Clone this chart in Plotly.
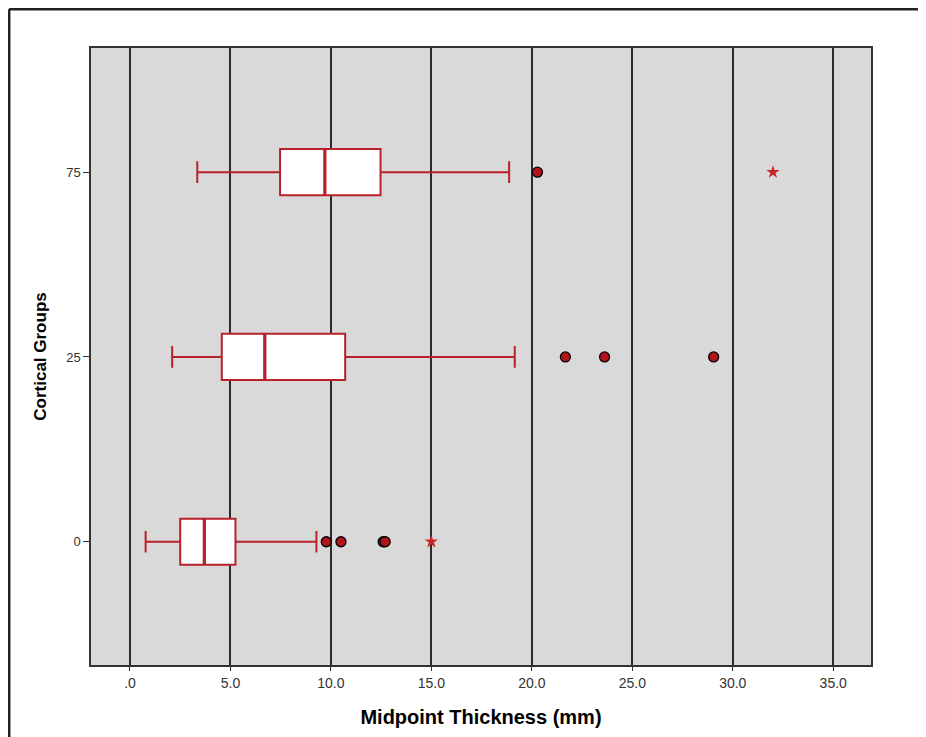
import plotly.graph_objects as go

# ---- data ----
groups = ["0", "25", "75"]
lower_whisker = [0.78, 2.1, 3.35]
q1 = [2.5, 4.57, 7.47]
median = [3.7, 6.71, 9.7]
q3 = [5.25, 10.71, 12.47]
upper_whisker = [9.28, 19.15, 18.87]

# mild outliers (circles) and extreme outliers (stars)
circle_group = ["0", "0", "0", "0", "25", "25", "25", "75"]
circle_value = [9.77, 10.5, 12.6, 12.7, 21.67, 23.62, 29.05, 20.28]
star_group = ["0", "75"]
star_value = [15.0, 32.0]

x_tick_vals = [0, 5, 10, 15, 20, 25, 30, 35]
x_tick_text = [".0", "5.0", "10.0", "15.0", "20.0", "25.0", "30.0", "35.0"]

# ---- styling ----
RED = "#b8202a"
BOX_W = 0.25
pos = {g: i for i, g in enumerate(groups)}

fig = go.Figure()

fig.add_trace(go.Box(
    y=[pos[g] for g in groups],
    q1=q1, median=median, q3=q3,
    lowerfence=lower_whisker, upperfence=upper_whisker,
    orientation="h",
    width=BOX_W,
    whiskerwidth=0.47,
    fillcolor="white",
    line=dict(color=RED, width=2),
    boxpoints=False,
    hoverinfo="skip",
    showlegend=False,
))

# thicker median lines
mx, my = [], []
for g, m in zip(groups, median):
    mx += [m, m, None]
    my += [pos[g] - BOX_W / 2, pos[g] + BOX_W / 2, None]
fig.add_trace(go.Scatter(
    x=mx, y=my, mode="lines",
    line=dict(color=RED, width=3.2),
    showlegend=False, hoverinfo="skip",
))

fig.add_trace(go.Scatter(
    x=circle_value, y=[pos[g] for g in circle_group],
    mode="markers",
    marker=dict(symbol="circle", size=10, color="#b3141b",
                line=dict(color="black", width=1.3)),
    showlegend=False,
))
fig.add_trace(go.Scatter(
    x=star_value, y=[pos[g] for g in star_group],
    mode="markers",
    marker=dict(symbol="star", size=10, color="#c8262c",
                line=dict(width=0)),
    showlegend=False,
))

# page body has an 8px margin, so the figure is placed at (8, 8)
W, H = 918, 729
L, R, T, B = 83, 55, 40, 70
pw, ph = W - L - R, H - T - B

def px2x(px):
    return (px - L) / pw

def py2y(py):
    return (H - B - py) / ph

# outer frame (top and left lines)
fig.add_shape(type="line", xref="paper", yref="paper",
              x0=px2x(1), x1=px2x(W + 5), y0=py2y(1.2), y1=py2y(1.2),
              line=dict(color="#222222", width=2.5))
fig.add_shape(type="line", xref="paper", yref="paper",
              x0=px2x(1.2), x1=px2x(1.2), y0=py2y(1), y1=py2y(H + 5),
              line=dict(color="#222222", width=2.5))

fig.update_layout(
    width=W, height=H,
    margin=dict(l=L, r=R, t=T, b=B),
    paper_bgcolor="white",
    plot_bgcolor="#d9d9d9",
    font=dict(family="Liberation Sans, Arial, sans-serif", color="#333333"),
    xaxis=dict(
        range=[-1.94, 36.88],
        tickvals=x_tick_vals, ticktext=x_tick_text,
        tickfont=dict(family="Liberation Sans Narrow, Liberation Sans, Arial", size=14, color="#333333"),
        showgrid=True, gridcolor="#2b2b2b", gridwidth=1.5,
        zeroline=False,
        showline=True, linecolor="#333333", linewidth=1.5, mirror=True,
        ticks="outside", ticklen=4, tickcolor="#333333",
        title=dict(text="<b>Midpoint Thickness (mm)</b>", standoff=20,
                   font=dict(family="Liberation Sans Narrow, Liberation Sans, Arial", size=20, color="black")),
    ),
    yaxis=dict(
        range=[-0.667, 2.672],
        tickvals=[pos[g] for g in groups], ticktext=groups,
        tickfont=dict(family="Liberation Sans, Arial", size=13, color="#333333"),
        showgrid=False, zeroline=False,
        showline=True, linecolor="#333333", linewidth=1.5, mirror=True,
        ticks="outside", ticklen=6, tickcolor="#333333",
        title=dict(text="<b>Cortical Groups</b>", standoff=15,
                   font=dict(family="Liberation Sans, Arial", size=17, color="black")),
    ),
)

fig.write_html("out.html")
